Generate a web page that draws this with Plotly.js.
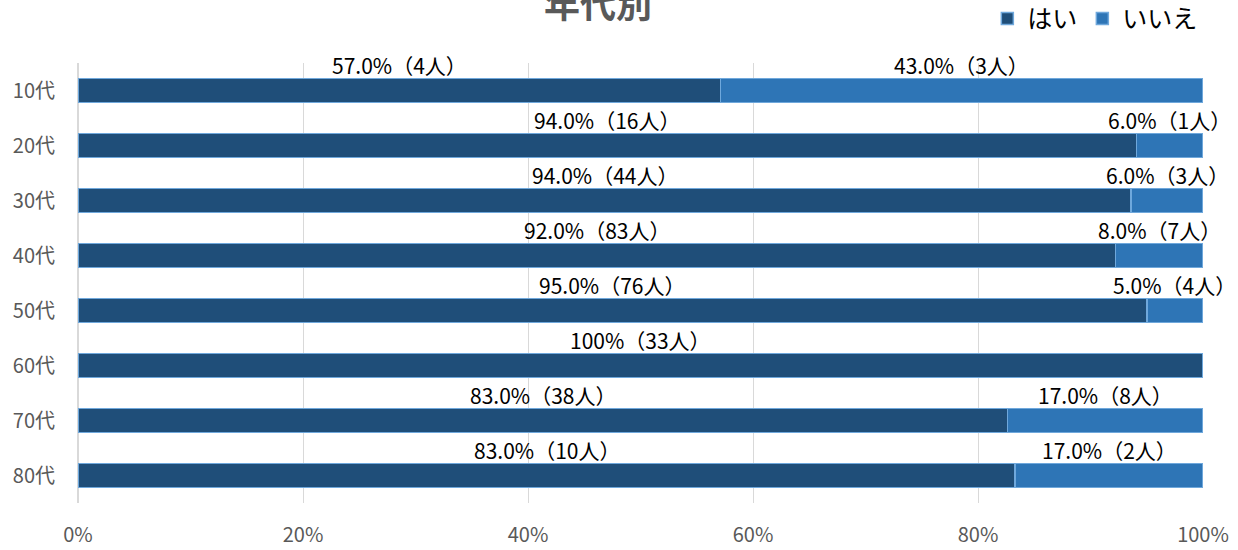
<!DOCTYPE html>
<html>
<head>
<meta charset="utf-8">
<script src="https://cdn.plot.ly/plotly-3.0.1.min.js"></script>
<style>html,body{margin:0;padding:0;background:#fff;}#chart{width:1238px;height:550px;}</style>
</head>
<body>
<div id="chart"></div>
<script>
const categories = ["10代", "20代", "30代", "40代", "50代", "60代", "70代", "80代"];
// bar lengths (share, %)
const yesShare = [57.1, 94.1, 93.6, 92.2, 95.0, 100, 82.6, 83.3];
const noShare  = [42.9, 5.9, 6.4, 7.8, 5.0, 0, 17.4, 16.7];
// label texts
const yesPctLabel = ["57.0%", "94.0%", "94.0%", "92.0%", "95.0%", "100%", "83.0%", "83.0%"];
const noPctLabel  = ["43.0%", "6.0%", "6.0%", "8.0%", "5.0%", "", "17.0%", "17.0%"];
const yesCount = [4, 16, 44, 83, 76, 33, 38, 10];
const noCount  = [3, 1, 3, 7, 4, 0, 8, 2];
const xTickVals = [0, 20, 40, 60, 80, 100];
const xTickText = ["0%", "20%", "40%", "60%", "80%", "100%"];

const FONT = '"Noto Sans CJK JP", "Noto Sans", sans-serif';
const YES_COLOR = '#1f4e79';
const NO_COLOR = '#2e75b6';
const EDGE = '#6fa8dc';

const traces = [
  {
    type: 'bar', orientation: 'h', name: 'はい',
    y: categories, x: yesShare,
    marker: {color: YES_COLOR, line: {color: EDGE, width: 1.5}},
    hoverinfo: 'skip'
  },
  {
    type: 'bar', orientation: 'h', name: 'いいえ',
    y: categories, x: noShare,
    marker: {color: NO_COLOR, line: {color: EDGE, width: 1.5}},
    hoverinfo: 'skip'
  }
];

const annotations = [];
categories.forEach((c, i) => {
  if (yesPctLabel[i]) {
    annotations.push({
      x: yesShare[i] / 2, y: c, xref: 'x', yref: 'y',
      text: yesPctLabel[i] + '（' + yesCount[i] + '人）',
      showarrow: false, xanchor: 'center', yanchor: 'bottom', yshift: 9,
      font: {family: FONT, size: 21, color: '#000000'}
    });
  }
  if (noPctLabel[i]) {
    annotations.push({
      x: yesShare[i] + noShare[i] / 2, y: c, xref: 'x', yref: 'y',
      text: noPctLabel[i] + '（' + noCount[i] + '人）',
      showarrow: false, xanchor: 'center', yanchor: 'bottom', yshift: 9,
      font: {family: FONT, size: 21, color: '#000000'}
    });
  }
});

const layout = {
  width: 1238, height: 550,
  margin: {l: 78, r: 35, t: 63, b: 47, pad: 0},
  paper_bgcolor: '#ffffff', plot_bgcolor: '#ffffff',
  barmode: 'stack', bargap: 0.56,
  title: {
    text: '<b>年代別</b>',
    font: {family: FONT, size: 36, color: '#595959'},
    x: 0.483, xanchor: 'center', xref: 'container',
    y: 0.99, yanchor: 'middle', yref: 'container'
  },
  showlegend: true,
  legend: {
    orientation: 'h', x: 0.972, xanchor: 'right', xref: 'container',
    y: 0.966, yanchor: 'middle', yref: 'container',
    font: {family: FONT, size: 25, color: '#000000'},
    itemwidth: 30, tracegroupgap: 0, traceorder: 'normal'
  },
  xaxis: {
    range: [0, 100], tickvals: xTickVals, ticktext: xTickText,
    showgrid: true, gridcolor: '#d9d9d9', gridwidth: 1,
    zeroline: true, zerolinecolor: '#d9d9d9', zerolinewidth: 2,
    showline: false, ticks: '', ticklabelstandoff: 18,
    tickfont: {family: FONT, size: 20, color: '#595959'},
    fixedrange: true
  },
  yaxis: {
    categoryorder: 'array', categoryarray: categories,
    range: [7.5, -0.5], autorange: false,
    showgrid: false, zeroline: false,
    showline: false, ticks: '', ticklabelstandoff: 22,
    tickfont: {family: FONT, size: 20, color: '#595959'},
    fixedrange: true
  },
  annotations: annotations
};

Plotly.newPlot('chart', traces, layout, {displayModeBar: false, staticPlot: true});
</script>
</body>
</html>
